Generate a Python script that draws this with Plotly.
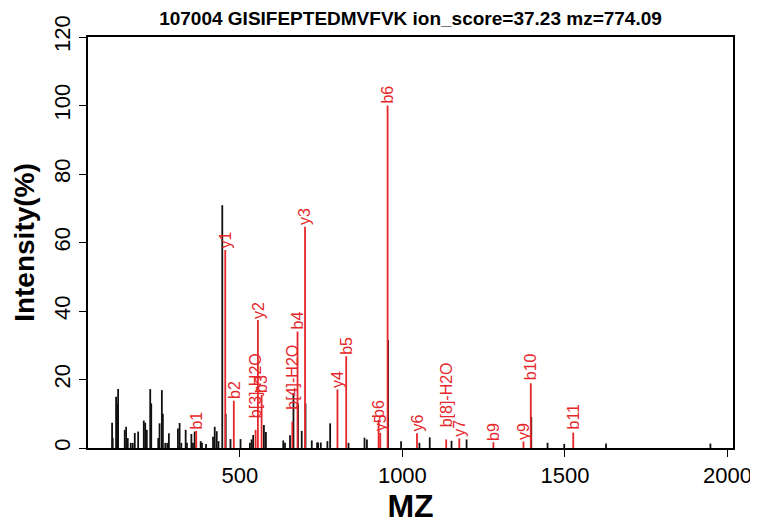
import plotly.graph_objects as go

# ---------------- data ----------------
title_text = "107004 GISIFEPTEDMVFVK ion_score=37.23 mz=774.09"

black_mz = [107.1, 108.9, 119.4, 122.5, 125.6, 146.0, 150.3, 155.3, 164.5, 170.7,
            176.9, 187.3, 204.6, 208.9, 213.9, 224.4, 227.5, 249.1, 253.1, 260.2,
            263.3, 270.7, 276.9, 281.8, 309.6, 314.8, 320.1, 333.4, 337.4, 351.0,
            355.9, 361.1, 379.6, 383.6, 396.0, 417.6, 422.8, 429.0, 434.3, 446.0,
            471.3, 502.2, 530.9, 536.1, 541.0, 574.1, 580.2, 633.6, 638.9, 654.3,
            665.0, 690.4, 721.3, 737.7, 740.7, 749.1, 769.4, 777.8, 834.3, 883.6,
            891.0, 996.0, 1052.5, 1084.2, 1151.2, 1197.5, 1446.6, 1497.8, 1626.5, 1947.5,
            456.5, 679.0, 702.0, 956.0, 1396.5]
black_int = [7.4, 3.0, 15.0, 13.0, 17.2, 5.3, 6.2, 2.9, 1.5, 1.5,
             4.4, 4.8, 8.0, 7.4, 5.3, 17.2, 13.0, 2.9, 7.2, 16.9,
             10.0, 1.5, 1.5, 4.3, 5.7, 7.3, 1.5, 5.3, 1.5, 4.1,
             1.5, 4.8, 2.0, 1.5, 1.2, 3.3, 6.2, 4.9, 2.0, 70.9,
             2.6, 2.6, 1.5, 2.5, 3.8, 6.7, 4.7, 2.2, 1.5, 3.7,
             16.0, 5.0, 2.2, 1.6, 1.6, 1.6, 2.0, 7.2, 1.5, 3.0,
             2.5, 2.0, 1.5, 3.1, 2.1, 2.5, 1.5, 1.2, 1.3, 1.3,
             10.0, 13.0, 13.0, 31.5, 9.1]

ion_labels = ["b1", "y1", "b2", "b[3]-H2O", "y2", "b3", "b[4]-H2O", "b4", "y3", "y4",
              "b5", "b6", "y5", "b6", "y6", "b[8]-H2O", "y7", "b9", "y9", "b10", "b11"]
ion_mz = [366.0, 455.2, 481.5, 548.5, 555.6, 567.0, 661.5, 677.5, 700.6, 800.3,
          827.2, 927.0, 932.0, 954.6, 1045.0, 1134.8, 1175.0, 1280.0, 1372.5, 1395.0, 1525.6]
ion_int = [5.0, 57.8, 13.8, 5.3, 37.4, 15.5, 7.7, 34.0, 64.6, 17.1,
           26.8, 8.2, 4.4, 100.0, 4.3, 2.5, 2.8, 1.7, 1.9, 18.9, 4.5]

x_range = [33, 2017]
y_range = [0, 120]
x_ticks = [500, 1000, 1500, 2000]
y_ticks = [0, 20, 40, 60, 80, 100, 120]

# ---------------- helpers ----------------
def sticks(xs, ys):
    px, py = [], []
    for x, y in zip(xs, ys):
        px += [x, x, None]
        py += [0, y, None]
    return px, py

CW = {"b": 556, "y": 500, "[": 278, "]": 278, "-": 584, "H": 722, "O": 778}
def text_em(s):
    return sum(CW.get(c, 556) for c in s) / 1000.0

LABEL_SIZE = 16
RED = "#e5262a"
FONT = "Liberation Sans, Arial"

# page body has an 8px margin, so the figure is 750x517 placed at (8, 8)
W, H = 750, 517
L, R, T, B = 80, 25, 29, 77

fig = go.Figure()
bx, by = sticks(black_mz, black_int)
fig.add_trace(go.Scatter(x=bx, y=by, mode="lines",
                         line=dict(color="#111111", width=1.8),
                         hoverinfo="skip", showlegend=False))
rx, ry = sticks(ion_mz, ion_int)
fig.add_trace(go.Scatter(x=rx, y=ry, mode="lines",
                         line=dict(color=RED, width=1.8),
                         hoverinfo="skip", showlegend=False))

for lab, x, y in zip(ion_labels, ion_mz, ion_int):
    gap = 0.2 * text_em(lab) * LABEL_SIZE
    fig.add_annotation(x=x, y=y, text=lab, showarrow=False, textangle=-90,
                       xanchor="center", yanchor="bottom", yshift=gap - 2,
                       borderpad=0, borderwidth=0,
                       font=dict(family=FONT, size=LABEL_SIZE, color=RED))

fig.update_layout(
    width=W, height=H,
    margin=dict(l=L, r=R, t=T, b=B, autoexpand=False),
    paper_bgcolor="white", plot_bgcolor="white",
    font=dict(family=FONT, color="black"),
    title=dict(text="<b>" + title_text + "</b>", x=(L + (W - R)) / 2 / W, xanchor="center",
               y=1 - 10 / H, yanchor="middle",
               font=dict(size=19, family=FONT, color="black")),
    xaxis=dict(range=x_range, tickvals=x_ticks, ticks="outside", ticklen=7, tickwidth=1.2,
               tickcolor="black", showline=True, linecolor="black", linewidth=1.5, mirror=True,
               showgrid=False, zeroline=False, tickfont=dict(size=22), automargin=False,
               title=dict(text="<b>MZ</b>", font=dict(size=32), standoff=2)),
    yaxis=dict(range=y_range, tickvals=y_ticks, ticks="outside", ticklen=7, tickwidth=1.2,
               tickcolor="black", showline=True, linecolor="black", linewidth=1.5, mirror=True,
               showgrid=False, zeroline=False, tickangle=-90, tickfont=dict(size=22),
               automargin=False,
               title=dict(text="<b>Intensity(%)</b>", font=dict(size=28), standoff=8)),
)

fig.write_html("out.html")
